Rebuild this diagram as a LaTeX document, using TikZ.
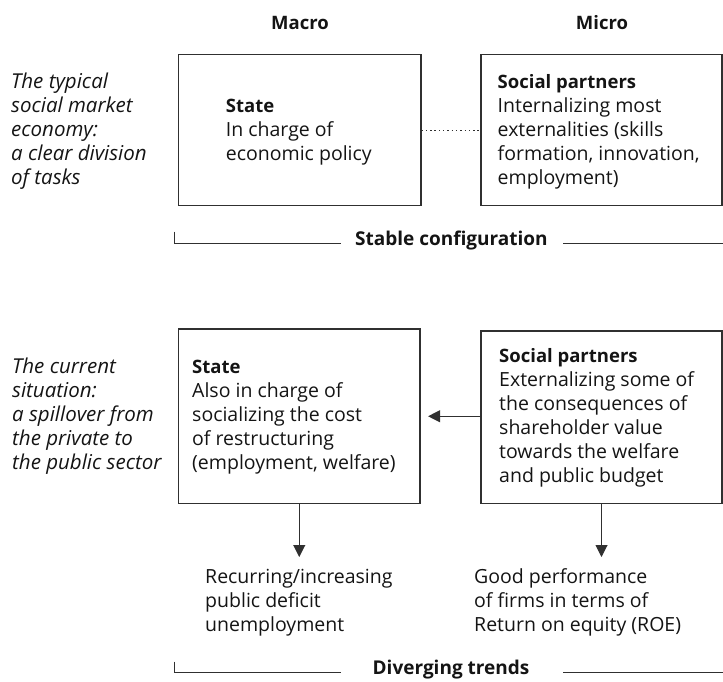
\documentclass[tikz,border=0pt]{standalone}
\usepackage{fontspec}
\setmainfont{Open Sans}
\usetikzlibrary{arrows.meta,calc}
\definecolor{ink}{HTML}{141414}
\definecolor{rule}{HTML}{303030}
\newcommand{\lead}[1]{{\fontsize{18.5}{24}\selectfont\bfseries #1}}
\begin{document}
\begin{tikzpicture}[x=1pt,y=-1pt,
  every node/.style={text=ink, inner sep=0pt},
  frame/.style={draw=rule, line width=1.1pt},
  % multi-line texts are placed by the baseline of their last line
  body/.style={font=\fontsize{19.5}{24}\selectfont, align=left, anchor=base west},
  note/.style={body, font=\fontsize{20.5}{24}\selectfont\itshape},
  head/.style={font=\fontsize{18.5}{24}\selectfont\bfseries, anchor=base},
  rulelabel/.style={font=\fontsize{19}{24}\selectfont\bfseries, anchor=mid},
  link/.style={draw=rule, line width=1pt},
  flow/.style={link, -{Triangle[length=12pt,width=12pt]}},
]
\useasboundingbox (0,0) rectangle (723,681);

% column headings
\node[head] (macro) at (300,29.3) {Macro};
\node[head] (micro) at (602,29.3) {Micro};

% side notes
\node[note] (typical) at (11,184) {The typical\\social market\\economy:\\a clear division\\of tasks};
\node[note] (current) at (12,469) {The current\\situation:\\a spillover from\\the private to\\the public sector};

% upper row: the division of tasks
\node[frame, minimum width=242.5pt, minimum height=151pt] (stateA) at (299.75,130) {};
\node[frame, minimum width=241pt, minimum height=151pt] (partnersA) at (601.5,130) {};
\node[body] (stateAtxt) at (225.7,160) {\lead{State}\\In charge of\\economic policy};
\node[body] (partnersAtxt) at (497.5,184) {\lead{Social partners}\\Internalizing most\\externalities (skills\\formation, innovation,\\employment)};
\draw[link, dash pattern=on 1.4pt off 2.9pt] (stateA) -- (partnersA);

% lower row: the spillover
\node[frame, minimum width=241.5pt, minimum height=174.5pt] (stateB) at (299.25,416.25) {};
\node[frame, minimum width=241pt, minimum height=172.5pt] (partnersB) at (601.5,417.25) {};
\node[body] (stateBtxt) at (192,469) {\lead{State}\\Also in charge of\\socializing the cost\\of restructuring\\(employment, welfare)};
\node[body] (partnersBtxt) at (499,482) {\lead{Social partners}\\Externalizing some of\\the consequences of\\shareholder value\\towards the welfare\\and public budget};
\draw[flow, shorten >=7.5pt] (partnersB.west |- stateB.east) -- (stateB.east);

% outcomes
\node[body] (deficit) at (205,631.3) {Recurring/increasing\\public deficit\\unemployment};
\node[body] (roe) at (474,631.3) {Good performance\\of firms in terms of\\Return on equity (ROE)};
\draw[flow] (stateB.south) -- (stateB.south |- 0,557);
\draw[flow] (partnersB.south) -- (partnersB.south |- 0,557);

% bracket rules with their labels
\node[rulelabel] (stable) at (451.4,243.3) {Stable configuration};
\coordinate (stableTick) at (174.4,231.7);
\coordinate (stableCorner) at (174.4,243.3);
\coordinate (stableL) at (340.6,243.3);
\coordinate (stableR) at (563,243.3);
\coordinate (stableEnd) at (723,243.3);
\draw[link] (stableTick) -- (stableCorner) -- (stableL);
\draw[link] (stableR) -- (stableEnd);

\node[rulelabel] (diverging) at (451,672.3) {Diverging trends};
\coordinate (divTick) at (174.4,661.7);
\coordinate (divCorner) at (174.4,672.3);
\coordinate (divL) at (340.6,672.3);
\coordinate (divR) at (563,672.3);
\coordinate (divEnd) at (723,672.3);
\draw[link] (divTick) -- (divCorner) -- (divL);
\draw[link] (divR) -- (divEnd);
\end{tikzpicture}
\end{document}
